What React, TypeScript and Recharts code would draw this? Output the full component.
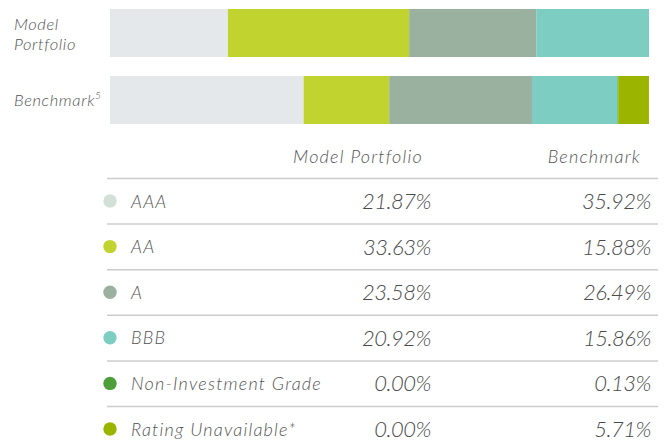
import React from 'react';
import { BarChart, Bar, XAxis, YAxis } from 'recharts';

const categories = ['Model Portfolio', 'Benchmark'];
const ratings = ['AAA', 'AA', 'A', 'BBB', 'Non-Investment Grade', 'Rating Unavailable*'];
const modelValues = [21.87, 33.63, 23.58, 20.92, 0.0, 0.0];
const benchmarkValues = [35.92, 15.88, 26.49, 15.86, 0.13, 5.71];
const barColors = ['#E4E8EB', '#C1D32F', '#9AB1A0', '#7ECDC3', '#4E9E3A', '#9AB400'];
const dotColors = ['#D3E0DA', '#C1D32F', '#9AB1A0', '#7ECDC3', '#4E9E3A', '#9AB400'];

const keys = ratings.map((_, i) => `r${i}`);
const seriesValues = [modelValues, benchmarkValues];
const data = categories.map((name, ci) => {
  const row: Record<string, any> = { name };
  keys.forEach((k, i) => { row[k] = seriesValues[ci][i]; });
  return row;
});

const FONT = 'Lato, "Open Sans", sans-serif';
const TEXT = '#555';

const CategoryTick = (props: any) => {
  const { y, payload } = props;
  const v: string = payload.value;
  const common = { fontFamily: FONT, fontStyle: 'italic', fontWeight: 300, fill: TEXT, letterSpacing: 0.6 } as any;
  if (v === 'Model Portfolio') {
    return (
      <text x={14} y={y} fontSize={16.5} {...common}>
        <tspan x={14} dy={-3}>Model</tspan>
        <tspan x={14} dy={20}>Portfolio</tspan>
      </text>
    );
  }
  return (
    <text x={14} y={y + 6} fontSize={16.5} {...common}>
      Benchmark<tspan fontSize={10} dy={-7}>5</tspan>
    </text>
  );
};

const fmt = (v: number) => `${v.toFixed(2)}%`;

export default function App() {
  const rowY0 = 201;
  const rowStep = 45.6;
  const labelStyle = { fontFamily: FONT, fontStyle: 'italic', fontWeight: 300, fontSize: 18, letterSpacing: 1.2 } as any;
  const valueStyle = { fontFamily: FONT, fontStyle: 'italic', fontWeight: 300, fontSize: 22, letterSpacing: -0.5 } as any;
  return (
    <div style={{ position: 'fixed', left: 0, top: 0, width: 664, height: 443, background: '#fff', overflow: 'hidden' }}>
      <div style={{ position: 'absolute', left: 0, top: -1.5 }}>
        <BarChart width={664} height={134} data={data} layout="vertical" margin={{ top: 0, right: 15, bottom: 0, left: 0 }} barSize={48}>
          <XAxis type="number" domain={[0, 100]} hide />
          <YAxis type="category" dataKey="name" width={110} axisLine={false} tickLine={false} tick={<CategoryTick />} />
          {keys.map((k, i) => (
            <Bar key={k} dataKey={k} stackId="s" fill={barColors[i]} isAnimationActive={false} />
          ))}
        </BarChart>
      </div>
      <svg width={664} height={443} style={{ position: 'absolute', left: 0, top: 0, pointerEvents: 'none' }}>
        <text x={358} y={163} textAnchor="middle" fill={TEXT} style={labelStyle}>{categories[0]}</text>
        <text x={641} y={163} textAnchor="end" fill={TEXT} style={labelStyle}>{categories[1]}</text>
        {ratings.map((r, i) => {
          const cy = rowY0 + i * rowStep;
          return (
            <g key={r}>
              <line x1={107} x2={658} y1={cy - 22.5} y2={cy - 22.5} stroke="#CCCCCC" strokeWidth={1.5} />
              <circle cx={110} cy={cy} r={6.7} fill={dotColors[i]} />
              <text x={131} y={cy + 6.5} fill={TEXT} style={labelStyle}>{r}</text>
              <text x={431} y={cy + 8} textAnchor="end" fill="#4a4a4a" style={valueStyle}>{fmt(modelValues[i])}</text>
              <text x={651} y={cy + 8} textAnchor="end" fill="#4a4a4a" style={valueStyle}>{fmt(benchmarkValues[i])}</text>
            </g>
          );
        })}
      </svg>
    </div>
  );
}
